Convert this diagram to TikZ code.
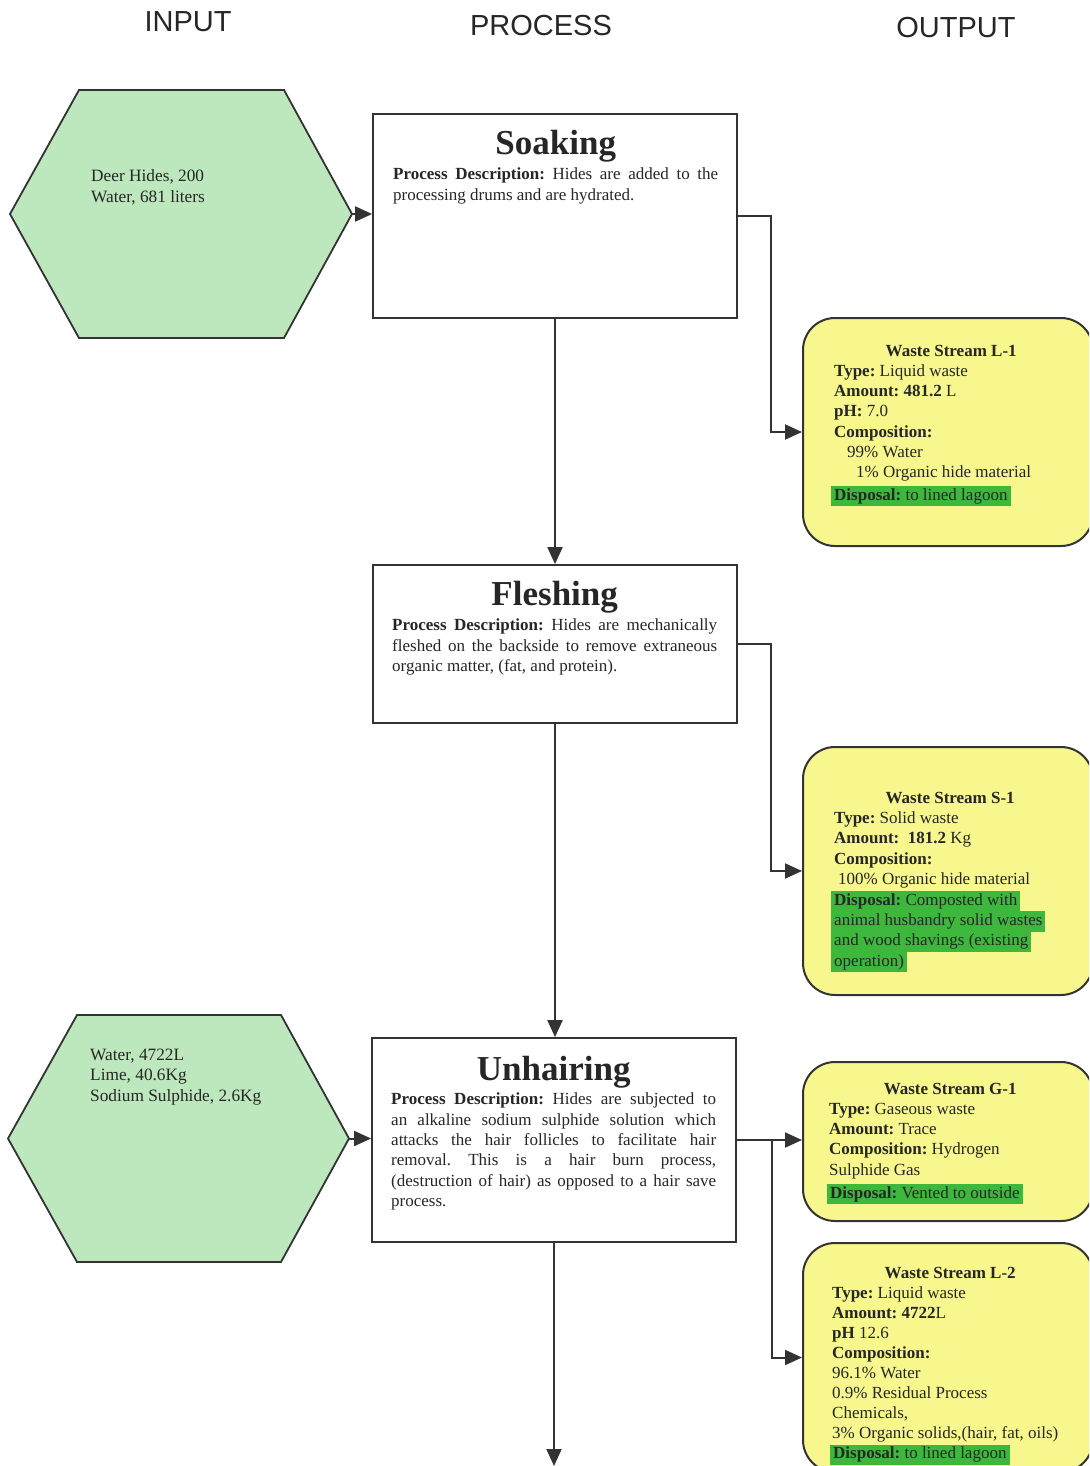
\documentclass[tikz,border=0pt]{standalone}
\usepackage{fontspec}
\setmainfont{Liberation Serif}
\newfontfamily\headfont{Liberation Sans}
\usetikzlibrary{arrows.meta,calc}
\frenchspacing

\definecolor{inkgray}{HTML}{333333}
\definecolor{hexgreen}{HTML}{BDE7BD}
\definecolor{wasteyellow}{HTML}{F7F78E}
\definecolor{hlgreen}{HTML}{3DB83D}

% text helpers
\newcommand\bodyfont{\fontsize{17}{20.3}\selectfont}
\newcommand\titlefont{\fontsize{35}{35}\selectfont\bfseries}
\newcommand\hl[1]{{\setlength\fboxsep{0pt}\colorbox{hlgreen}{\strut\kern3pt#1\kern3pt}}}
\newcommand\tline[1]{\hbox{#1}}
\newcommand\jline[1]{\hbox to\hsize{#1}}
\newcommand\ctrline[1]{\hbox to\hsize{\hss#1\hss}}

\tikzset{
  head/.style={font=\headfont\fontsize{29}{29}\selectfont, text=black!85, inner sep=0},
  txt/.style={anchor=base west, inner sep=0, text=black!85},
  hexframe/.style={inner sep=0, outer sep=0},
  hexfill/.style={fill=hexgreen, draw=inkgray, line width=1.8pt, line join=miter},
  procbox/.style={draw=inkgray, line width=1.8pt, fill=white, inner sep=0, minimum width=364pt},
  waste/.style={draw=inkgray, line width=2pt, fill=wasteyellow, rounded corners=32pt,
                inner sep=0, minimum width=290pt},
  flow/.style={draw=inkgray, line width=2pt, -{Triangle[length=17pt,width=15pt]}},
}

\begin{document}
\begin{tikzpicture}[x=1pt,y=-1pt]
\fill[white] (0,0) rectangle (1089,1466);
\clip (0,0) rectangle (1089,1466);

% column headings
\node[head] (hin)  at (188,22) {INPUT};
\node[head] (hpro) at (541,26) {PROCESS};
\node[head] (hout) at (956,28) {OUTPUT};

% input hexagons
\node[hexframe, minimum width=342pt, minimum height=248pt] (in1) at (181,214) {};
\node[hexframe, minimum width=341pt, minimum height=247pt] (in2) at (178.5,1138.5) {};
\foreach \h in {in1,in2}{
  \path[hexfill] (\h.west) -- ([xshift=69pt]\h.north west) -- ([xshift=-68pt]\h.north east)
    -- (\h.east) -- ([xshift=-68pt]\h.south east) -- ([xshift=69pt]\h.south west) -- cycle;
}
\node[txt] (in1-t) at (91,182) {\parbox[t]{220pt}{\fontsize{17.3}{20.3}\selectfont
  \tline{Deer Hides, 200}
  \tline{Water, 681 liters}}};
\node[txt] (in2-t) at (90,1060) {\parbox[t]{220pt}{\fontsize{17.3}{20.5}\selectfont
  \tline{Water, 4722L}
  \tline{Lime, 40.6Kg}
  \tline{Sodium Sulphide, 2.6Kg}}};

% process steps
\node[procbox, minimum height=204pt] (soak)   at (555,216)  {};
\node[procbox, minimum height=158pt] (flesh)  at (555,644)  {};
\node[procbox, minimum height=204pt] (unhair) at (554,1140) {};

\node[txt] (soak-t) at (393,155) {\parbox[t]{325pt}{\bodyfont
  \ctrline{\titlefont Soaking}\vskip4.5pt
  \jline{\textbf{Process Description:} Hides are added to the}
  \tline{processing drums and are hydrated.}}};

\node[txt] (flesh-t) at (392,605) {\parbox[t]{325pt}{\bodyfont
  \ctrline{\titlefont Fleshing}\vskip5.5pt
  \jline{\textbf{Process Description:} Hides are mechanically}
  \jline{fleshed on the backside to remove extraneous}
  \tline{organic matter, (fat, and protein).}}};

\node[txt] (unhair-t) at (391,1080) {\parbox[t]{325pt}{\bodyfont
  \ctrline{\titlefont Unhairing}\vskip4.5pt
  \jline{\textbf{Process Description:} Hides are subjected to}
  \jline{an alkaline sodium sulphide solution which}
  \jline{attacks the hair follicles to facilitate hair}
  \jline{removal. This is a hair burn process,}
  \jline{(destruction of hair) as opposed to a hair save}
  \tline{process.}}};

% waste streams
\node[waste, minimum height=228pt] (l1) at (948,432)    {};
\node[waste, minimum height=248pt] (s1) at (948,871)    {};
\node[waste, minimum height=159pt] (g1) at (948,1141.5) {};
\node[waste, minimum height=229pt] (l2) at (948,1357.5) {};

\node[txt] (l1-t) at (834,356) {\parbox[t]{234pt}{\bodyfont
  \ctrline{\textbf{Waste Stream L-1}}
  \tline{\textbf{Type:} Liquid waste}
  \tline{\textbf{Amount: 481.2} L}
  \tline{\textbf{pH:} 7.0}
  \tline{\textbf{Composition:}}
  \tline{\hspace*{13pt}99\% Water}
  \tline{\hspace*{22pt}1\% Organic hide material}
  \vskip2pt
  \tline{\kern-3pt\hl{\textbf{Disposal:} to lined lagoon}}}};

\node[txt] (s1-t) at (834,803) {\parbox[t]{232pt}{\fontsize{17}{20.4}\selectfont
  \ctrline{\textbf{Waste Stream S-1}}
  \tline{\textbf{Type:} Solid waste}
  \tline{\textbf{Amount:\ \ 181.2} Kg}
  \tline{\textbf{Composition:}}
  \tline{\hspace*{4pt}100\% Organic hide material}
  \tline{\kern-3pt\hl{\textbf{Disposal:} Composted with}}
  \tline{\kern-3pt\hl{animal husbandry solid wastes}}
  \tline{\kern-3pt\hl{and wood shavings (existing}}
  \tline{\kern-3pt\hl{operation)}}}};

\node[txt] (g1-t) at (829,1094) {\parbox[t]{242pt}{\bodyfont
  \ctrline{\textbf{Waste Stream G-1}}
  \tline{\textbf{Type:} Gaseous waste}
  \tline{\textbf{Amount:} Trace}
  \tline{\textbf{Composition:} Hydrogen}
  \tline{Sulphide Gas}
  \vskip2.5pt
  \tline{\kern-2pt\hl{\textbf{Disposal:} Vented to outside}}}};

\node[txt] (l2-t) at (832,1278) {\parbox[t]{236pt}{\fontsize{17}{20.1}\selectfont
  \ctrline{\textbf{Waste Stream L-2}}
  \tline{\textbf{Type:} Liquid waste}
  \tline{\textbf{Amount: 4722}L}
  \tline{\textbf{pH} 12.6}
  \tline{\textbf{Composition:}}
  \tline{96.1\% Water}
  \tline{0.9\% Residual Process}
  \tline{Chemicals,}
  \tline{3\% Organic solids,(hair, fat, oils)}
  \tline{\kern-2pt\hl{\textbf{Disposal:} to lined lagoon}}}};

% connectors
\coordinate (split) at ($(unhair.east)+(35,0)$);
\coordinate (next) at (554,1466);

\draw[flow] (in1.east) -- (in1.east -| soak.west);
\draw[flow] (in2.east) -- (in2.east -| unhair.west);

\draw[flow] (soak.east) -- ++(33,0) |- (l1.west);
\draw[flow] (flesh.east) -- ++(33,0) |- (s1.west);
\draw[flow] (unhair.east) -- (unhair.east -| g1.west);
\draw[flow] (split) |- (l2.west);

\draw[flow] (soak.south) -- (soak.south |- flesh.north);
\draw[flow] (flesh.south) -- (flesh.south |- unhair.north);
\draw[flow] (unhair.south) -- (next);
\end{tikzpicture}
\end{document}
